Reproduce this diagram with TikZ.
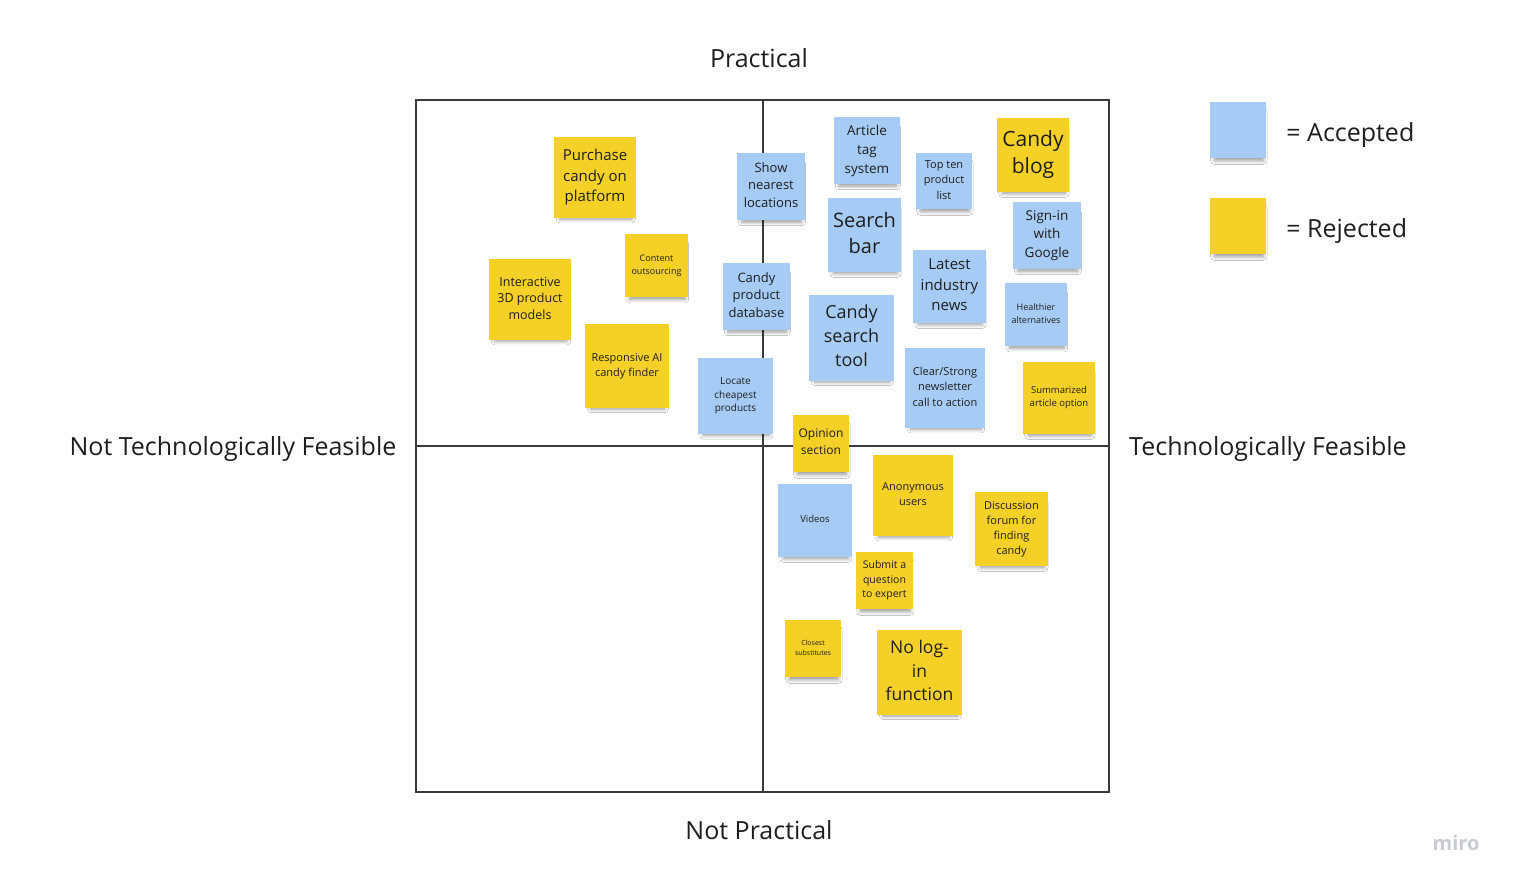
\documentclass[tikz,border=0pt]{standalone}
\usepackage{fontspec}
\setmainfont{Open Sans}
\usetikzlibrary{shadows.blur}
\definecolor{noteblue}{HTML}{A6CCF5}
\definecolor{noteyellow}{HTML}{F5D128}
\definecolor{frameline}{HTML}{3A3A3A}
\definecolor{txt}{HTML}{1E1E1E}
\definecolor{mirogray}{HTML}{C9CAD2}
\newcommand\fsz[2]{\fontsize{#1}{#2}\selectfont}
\begin{document}
\begin{tikzpicture}[x=0.5pt,y=-0.5pt,
  note/.style={inner sep=0pt, outer sep=0pt, align=center, text=txt,
    execute at begin node={\vphantom{Ahl}},
    execute at end node={\vphantom{gp}},
    blur shadow={shadow xshift=0.5pt, shadow yshift=-3.5pt, shadow scale=0.88,
      shadow blur radius=2pt, shadow blur steps=6, shadow opacity=40}},
  sz/.style 2 args={minimum width=#1*0.5pt, minimum height=#2*0.5pt},
  bnote/.style={note, fill=noteblue},
  ynote/.style={note, fill=noteyellow},
  axislabel/.style={font=\fsz{12.5}{16}, text=txt, inner sep=0pt, anchor=base},
  framestyle/.style={draw=frameline, line width=1pt}]

\useasboundingbox[fill=white] (0,0) rectangle (1516,885);

% frame
\draw[framestyle] (416,100) rectangle (1109,792);
\draw[framestyle] (763,100) -- (763,792);
\draw[framestyle] (416,446) -- (1109,446);

% axis labels
\node[axislabel] (practical) at (759,67) {Practical};
\node[axislabel] (notpractical) at (759,839) {Not Practical};
\node[axislabel] (notfeasible) at (233,455) {Not Technologically Feasible};
\node[axislabel] (feasible) at (1268,455) {Technologically Feasible};

% legend
\node[bnote, sz={56}{56}] (legblue) at (1238,130) {};
\node[ynote, sz={56}{56}] (legyellow) at (1238,226) {};
\node[axislabel, anchor=base west] (accepted) at (1286,141.5) {= Accepted};
\node[axislabel, anchor=base west] (rejected) at (1286,237.5) {= Rejected};

% upper left quadrant
\node[ynote, sz={82}{81}, font=\fsz{7.5}{10.25}] (purchase) at (595,177.5) {Purchase\\candy on\\platform};
\node[ynote, sz={63}{63}, font=\fsz{4.5}{6.5}] (content) at (656.5,265.5) {Content\\outsourcing};
\node[ynote, sz={82}{81}, font=\fsz{6.25}{8.25}] (interactive) at (530,299.5) {Interactive\\3D product\\models};
\node[ynote, sz={84}{84}, font=\fsz{5.5}{7.5}] (responsive) at (627,366) {Responsive AI\\candy finder};
\node[bnote, sz={75}{76}, font=\fsz{5}{6.75}] (locate) at (735.5,396) {Locate\\cheapest\\products};
\node[bnote, sz={68}{67}, font=\fsz{6.5}{8.75}] (shownearest) at (771,186.5) {Show\\nearest\\locations};
\node[bnote, sz={67}{67}, font=\fsz{6.5}{8.75}] (productdb) at (756.5,296.5) {Candy\\product\\database};

% upper right quadrant
\node[bnote, sz={66}{67}, font=\fsz{6.75}{9.5}] (articletag) at (867,150.5) {Article\\tag\\system};
\node[bnote, sz={56}{56}, font=\fsz{5.5}{7.75}] (topten) at (944,181) {Top ten\\product\\list};
\node[ynote, sz={72}{74}, font=\fsz{10.5}{13.5}] (candyblog) at (1033,155) {Candy\\blog};
\node[bnote, sz={73}{74}, font=\fsz{10}{13}] (searchbar) at (864.5,235) {Search\\bar};
\node[bnote, sz={68}{67}, font=\fsz{6.75}{9.25}] (signin) at (1047,235.5) {Sign-in\\with\\Google};
\node[bnote, sz={73}{73}, font=\fsz{7.5}{10.25}] (latest) at (949.5,286.5) {Latest\\industry\\news};
\node[bnote, sz={62}{63}, font=\fsz{4.5}{6.75}] (healthier) at (1036,314.5) {Healthier\\alternatives};
\node[bnote, sz={85}{86}, font=\fsz{9}{12}] (searchtool) at (851.5,338) {Candy\\search\\tool};
\node[bnote, sz={80}{80}, font=\fsz{5.5}{7.75}] (newsletter) at (945,388) {Clear/Strong\\newsletter\\call to action};
\node[ynote, sz={72}{72}, font=\fsz{4.75}{6.5}] (summarized) at (1059,398) {Summarized\\article option};
\node[ynote, sz={56}{57}, font=\fsz{6}{8.5}] (opinion) at (821,443.5) {Opinion\\section};

% lower right quadrant
\node[ynote, sz={80}{81}, font=\fsz{5.5}{7.5}] (anonymous) at (913,495.5) {Anonymous\\users};
\node[bnote, sz={74}{73}, font=\fsz{4.75}{6.5}] (videos) at (815,520.5) {Videos};
\node[ynote, sz={73}{74}, font=\fsz{5.5}{7.5}] (discussion) at (1011.5,529) {Discussion\\forum for\\finding\\candy};
\node[ynote, sz={57}{57}, font=\fsz{5.25}{7.25}] (submit) at (884.5,580.5) {Submit a\\question\\to expert};
\node[ynote, sz={56}{57}, font=\fsz{3.5}{5}] (closest) at (813,648.5) {Closest\\substitutes};
\node[ynote, sz={85}{85}, font=\fsz{8.75}{11.75}] (nologin) at (919.5,672.5) {No log-\\in\\function};

% watermark
\node[font=\fsz{10}{12}\bfseries, text=mirogray, inner sep=0pt] (miro) at (1456,843) {miro};
\end{tikzpicture}
\end{document}
